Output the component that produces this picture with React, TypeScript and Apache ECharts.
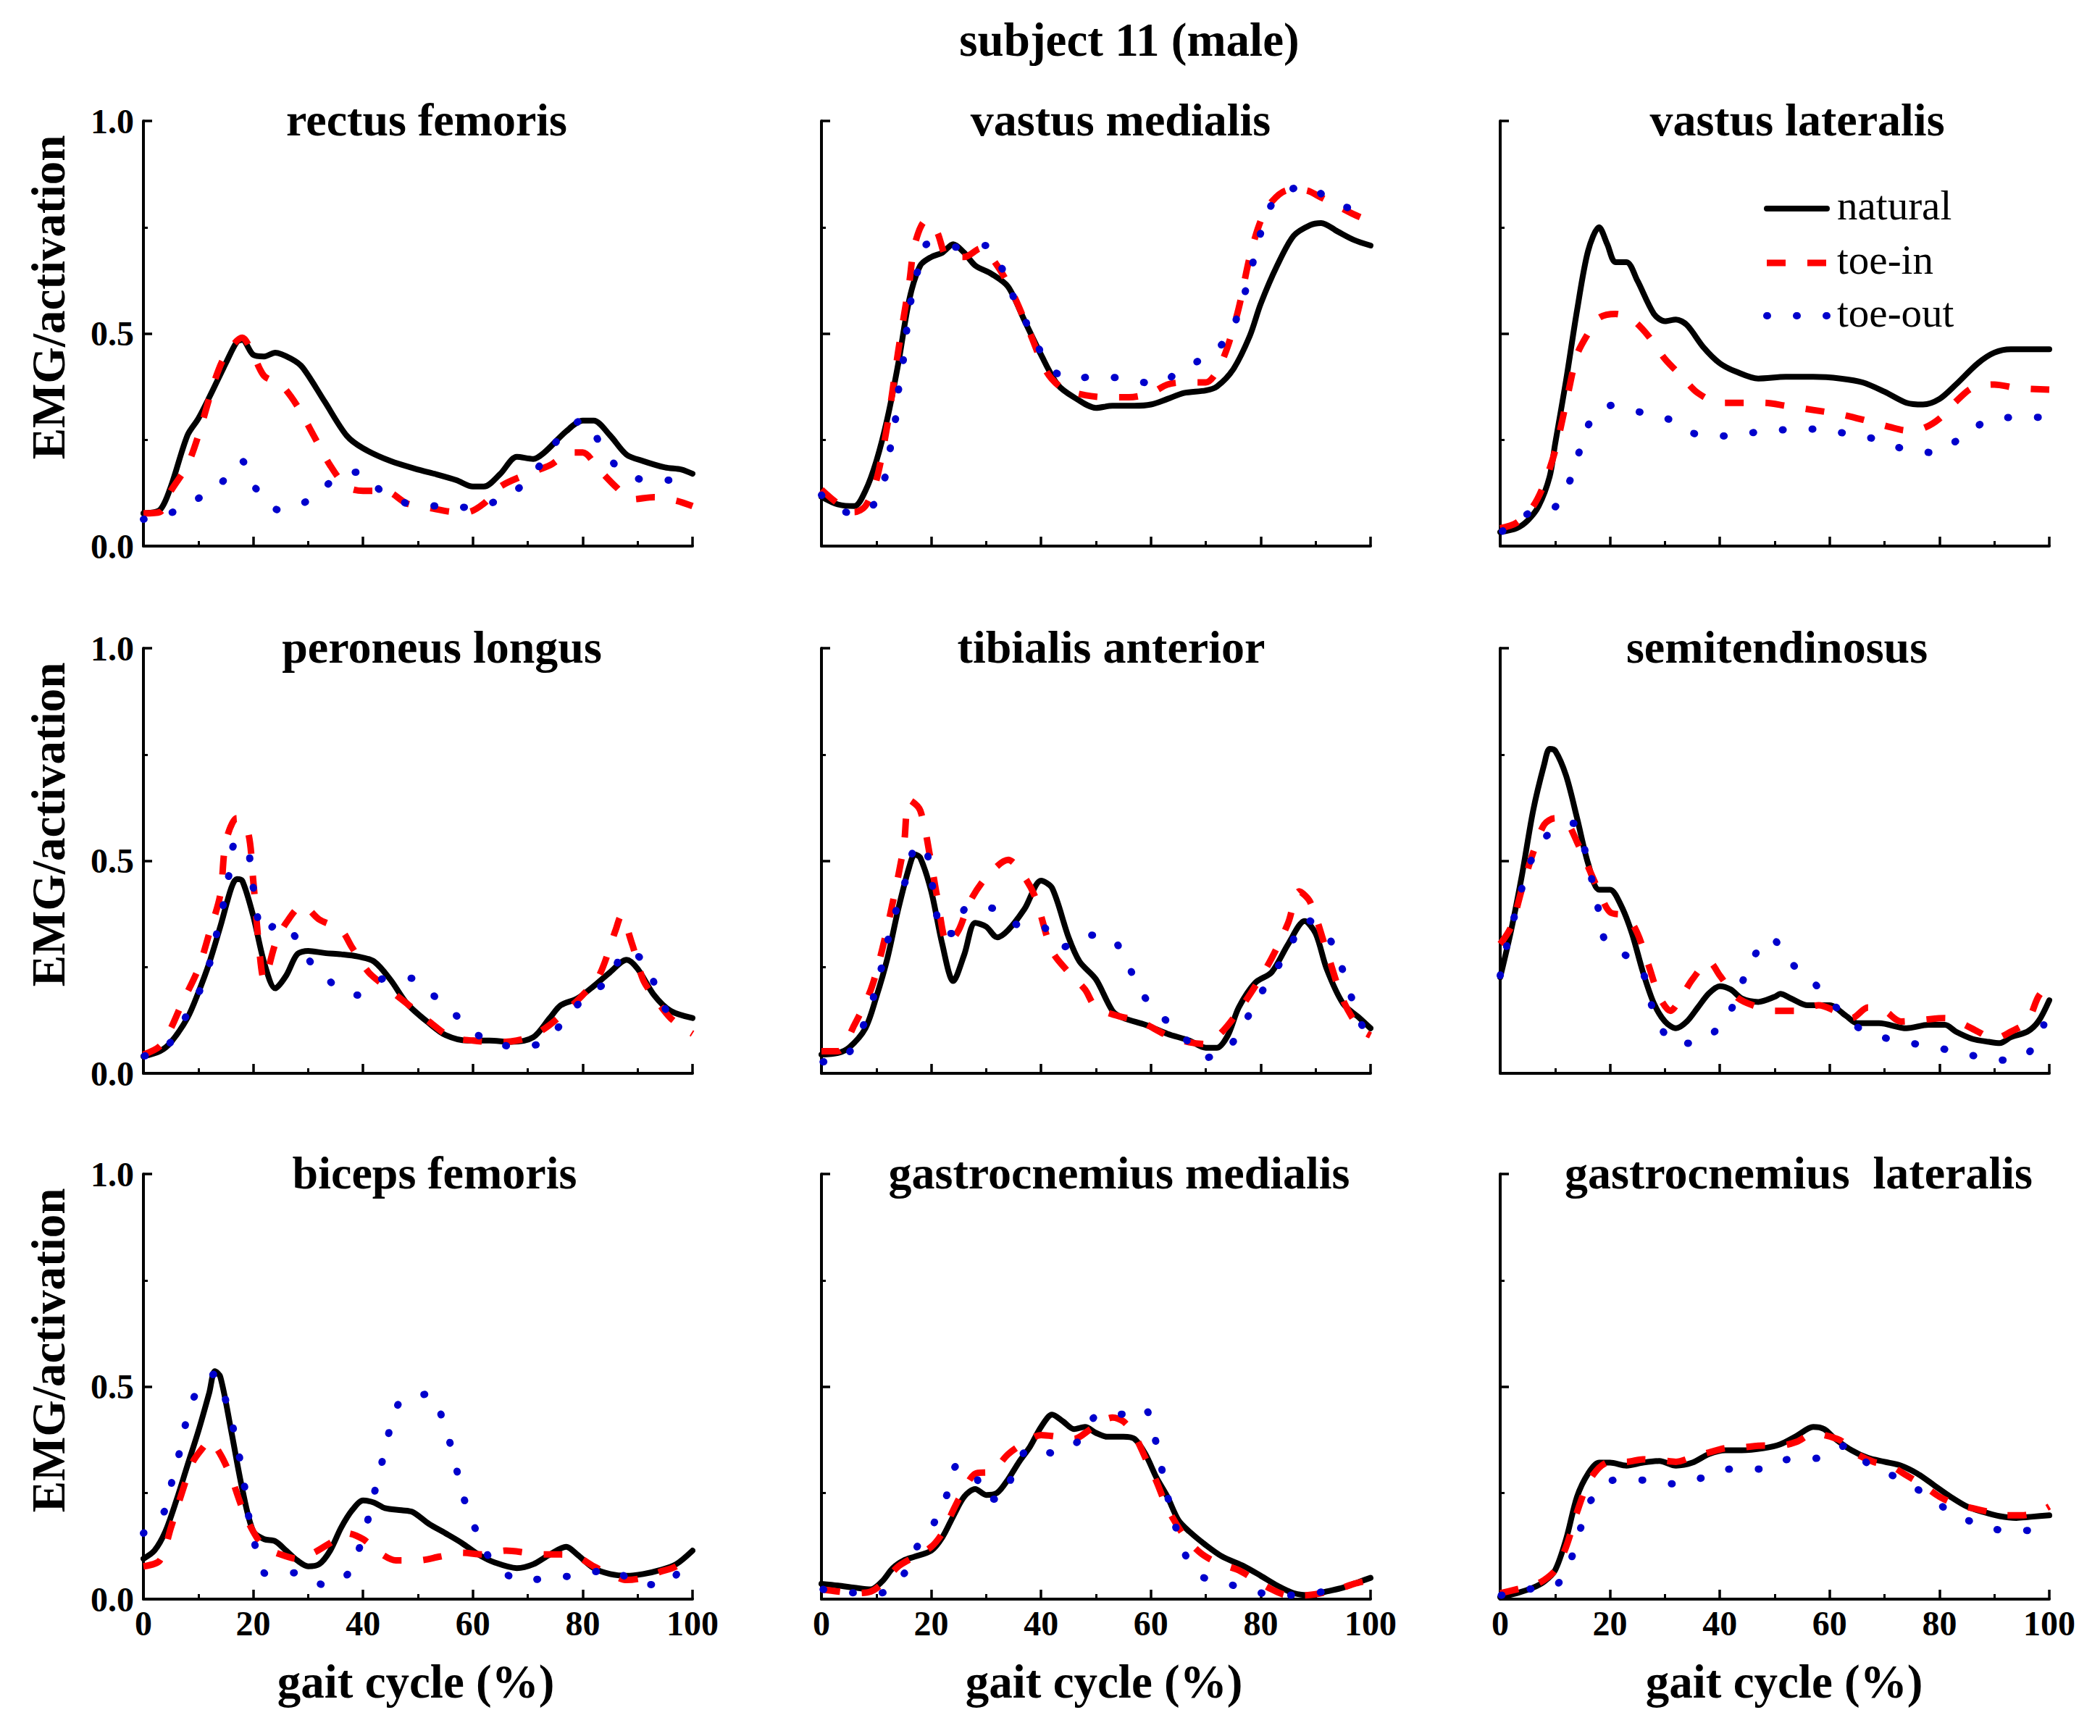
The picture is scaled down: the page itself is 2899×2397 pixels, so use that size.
import React, { useEffect, useRef } from "react";
import * as echarts from "echarts";

// ---------- DATA ----------
const figureTitle = "subject 11 (male)";
const muscles = [
  "rectus femoris", "vastus medialis", "vastus lateralis",
  "peroneus longus", "tibialis anterior", "semitendinosus",
  "biceps femoris", "gastrocnemius medialis", "gastrocnemius  lateralis",
];
const conditions = ["natural", "toe-in", "toe-out"];
const xAxisTitle = "gait cycle (%)";
const yAxisTitle = "EMG/activation";
const xTickStep = 20;
const yTickStep = 0.5;

// rectus femoris
const rfNatural = [[0,.077],[3,.085],[5,.14],[8,.26],[10,.30],[12,.35],[15,.43],[17,.48],[18,.485],[20,.45],[22,.446],[24,.455],[27,.44],[29,.42],[33,.34],[37,.26],[40,.23],[45,.20],[50,.18],[53,.17],[57,.155],[60,.14],[62,.14],[65,.17],[68,.21],[71,.205],[73,.22],[77,.27],[80,.295],[82,.295],[85,.26],[88,.215],[91,.20],[95,.185],[98,.18],[100,.17]];
const rfToeIn = [[0,.077],[3,.08],[5,.13],[8,.19],[10,.26],[13,.39],[15,.45],[18,.49],[20,.45],[22,.40],[25,.38],[28,.33],[31,.26],[34,.19],[37,.14],[40,.13],[44,.13],[48,.10],[52,.09],[57,.08],[59,.08],[62,.10],[65,.14],[70,.17],[74,.19],[78,.22],[80,.22],[83,.18],[86,.14],[89,.11],[93,.115],[97,.107],[100,.094]];
const rfToeOut = [[0,.063],[5,.078],[10.5,.116],[14.7,.155],[17.9,.20],[20.5,.135],[24.7,.085],[30,.107],[34,.149],[39,.174],[43.4,.129],[48.7,.098],[54.2,.094],[59.6,.091],[64.9,.109],[69,.143],[73,.203],[76.2,.262],[80,.296],[83.4,.237],[86.4,.185],[91.6,.155],[97.1,.155]];

// vastus medialis
const vmNatural = [[0,.116],[3,.098],[6,.094],[8,.13],[10,.20],[12,.30],[14,.43],[16,.58],[18,.66],[20,.68],[22,.69],[24,.71],[26,.69],[28,.66],[31,.64],[34,.61],[37,.53],[40,.45],[43,.38],[46,.35],[50,.325],[53,.33],[57,.33],[60,.333],[63,.346],[66,.36],[70,.366],[72,.375],[75,.416],[78,.494],[80,.57],[83,.66],[86,.73],[89,.755],[91,.76],[94,.74],[97,.72],[100,.707]];
const vmToeIn = [[0,.133],[3,.10],[6,.08],[8,.094],[10,.155],[12,.285],[14,.46],[16,.62],[17,.71],[19,.765],[21,.74],[23,.68],[26,.68],[29,.70],[32,.66],[35,.59],[38,.50],[41,.41],[44,.37],[48,.355],[52,.35],[56,.35],[60,.36],[63,.38],[66,.385],[70,.385],[72,.41],[74,.47],[76,.56],[78,.68],[80,.765],[82,.81],[85,.837],[88,.837],[91,.82],[94,.80],[97,.78],[100,.763]];
const vmToeOut = [[0,.12],[5.4,.077],[9.4,.096],[11.6,.163],[12.6,.235],[13.5,.30],[14.1,.374],[15,.446],[15.6,.516],[16.4,.585],[17.7,.655],[19.4,.711],[24.9,.703],[29.9,.707],[33.3,.642],[35.4,.572],[37.9,.511],[40.3,.45],[44.6,.394],[50.1,.398],[55.4,.394],[60.9,.381],[64.8,.407],[69.9,.446],[74.1,.49],[76.2,.56],[77.9,.63],[79.2,.70],[80.7,.763],[83.1,.824],[88.3,.846],[92.5,.816],[98.1,.783]];

// vastus lateralis
const vlNatural = [[0,.033],[3,.042],[5,.06],[7,.094],[9,.163],[10,.24],[12,.39],[14,.555],[16,.694],[18,.75],[19.5,.71],[21,.668],[23,.668],[25,.624],[28,.546],[30,.529],[32,.533],[34,.52],[37,.468],[40,.43],[43,.41],[47,.394],[52,.398],[57,.398],[62,.394],[66,.385],[70,.363],[74,.337],[77,.333],[80,.346],[83,.38],[87,.43],[90,.455],[93,.463],[100,.463]];
const vlToeIn = [[0,.042],[3,.055],[6,.094],[8,.146],[10,.224],[12,.337],[14,.45],[16,.50],[18,.537],[21,.546],[24,.533],[27,.494],[30,.44],[33,.40],[36,.36],[40,.337],[44,.337],[48,.337],[52,.33],[57,.32],[62,.31],[67,.294],[71,.28],[74,.272],[77,.277],[80,.30],[83,.34],[86,.372],[90,.38],[94,.372],[100,.368]];
const vlToeOut = [[0.4,.035],[5.2,.077],[10,.092],[12.9,.16],[14.5,.226],[16.4,.292],[20.4,.331],[25.8,.314],[31,.297],[35.8,.263],[41.3,.259],[46.7,.268],[52.1,.274],[57.7,.275],[62.9,.265],[68.2,.252],[73.4,.229],[78.9,.22],[83.4,.25],[88.3,.292],[93.9,.303],[99.2,.303]];

// peroneus longus
const plNatural = [[0,.04],[3,.052],[5,.073],[8,.13],[10,.19],[12,.26],[14,.345],[16,.436],[17,.457],[18,.453],[20,.37],[22,.26],[24,.20],[26,.23],[28,.28],[30,.288],[33,.283],[36,.28],[39,.275],[42,.263],[45,.22],[48,.164],[52,.118],[55,.09],[59,.077],[63,.077],[67,.074],[71,.085],[74,.13],[76,.16],[79,.176],[82,.205],[85,.238],[88,.267],[90,.246],[93,.184],[96,.147],[100,.13]];
const plToeIn = [[0,.044],[3,.064],[5,.106],[7,.164],[10,.246],[12,.33],[14,.42],[15,.544],[17,.60],[19,.57],[20,.453],[21,.304],[22,.22],[24,.304],[26,.354],[29,.395],[32,.362],[36,.337],[38,.296],[41,.238],[44,.205],[48,.164],[52,.122],[56,.085],[60,.077],[64,.073],[68,.077],[71,.089],[74,.114],[77,.147],[80,.184],[83,.23],[86,.337],[87,.37],[89,.304],[91,.22],[93,.18],[96,.13],[100,.093]];
const plToeOut = [[0.2,.041],[3.8,.056],[7.2,.122],[10.1,.19],[12,.256],[13.3,.326],[14.6,.40],[15.6,.469],[16.7,.54],[18.8,.538],[19.6,.469],[20.5,.40],[21.6,.329],[25,.355],[28.2,.311],[30.8,.255],[34.7,.209],[38.9,.184],[44.5,.226],[49.1,.223],[53.1,.18],[57.5,.13],[62.8,.074],[68.1,.064],[72.9,.073],[76.7,.126],[80.5,.18],[84.9,.221],[87.8,.288],[91.6,.259],[93.5,.193],[95.9,.13]];

// tibialis anterior
const taNatural = [[0,.044],[3,.048],[5,.06],[8,.106],[10,.18],[12,.27],[14,.387],[16,.486],[17,.515],[18,.507],[20,.428],[22,.304],[24,.217],[26,.279],[28,.354],[30,.345],[32,.32],[34,.337],[37,.387],[40,.453],[42,.436],[45,.32],[47,.263],[50,.221],[53,.147],[55,.13],[59,.114],[63,.093],[67,.077],[70,.06],[72,.06],[74,.089],[76,.155],[79,.213],[82,.238],[85,.304],[88,.358],[90,.329],[92,.246],[95,.164],[98,.13],[100,.106]];
const taToeIn = [[0,.052],[3,.052],[6,.114],[9,.197],[11,.288],[13,.403],[15,.535],[16,.643],[18,.618],[20,.494],[21,.42],[23,.304],[25,.337],[27,.403],[30,.461],[34,.502],[37,.461],[39,.412],[42,.288],[45,.238],[48,.197],[50,.155],[54,.135],[58,.122],[63,.089],[67,.073],[70,.069],[73,.098],[76,.147],[79,.205],[82,.271],[85,.354],[87,.428],[89,.403],[92,.288],[95,.172],[98,.106],[100,.089]];
const taToeOut = [[0.3,.027],[4.4,.04],[7.4,.106],[9.4,.176],[10.8,.242],[12,.308],[13.6,.383],[15.2,.449],[16.6,.519],[18.7,.54],[19.8,.469],[20.8,.40],[21.7,.329],[24.4,.329],[26.5,.391],[31.8,.387],[35.6,.35],[40.3,.345],[43.8,.296],[48.3,.325],[52.7,.319],[55.8,.256],[58.1,.193],[61.5,.14],[65.5,.093],[69.9,.037],[73.7,.054],[76.9,.116],[79.6,.179],[82.4,.236],[85.5,.302],[88,.362],[91.6,.335],[94.2,.269],[96,.199],[97.7,.136],[99.8,.073]];

// semitendinosus
const stNatural = [[0,.226],[2,.337],[4,.469],[6,.618],[8,.726],[9,.763],[10,.759],[12,.70],[14,.60],[16,.494],[18,.432],[20,.432],[22,.395],[24,.329],[26,.238],[28,.164],[30,.122],[32,.106],[34,.122],[36,.155],[38,.188],[40,.205],[42,.197],[44,.176],[47,.168],[50,.18],[51,.187],[53,.176],[56,.16],[60,.16],[63,.135],[65,.118],[69,.118],[74,.106],[78,.114],[81,.114],[83,.098],[86,.081],[89,.074],[91,.071],[93,.085],[96,.098],[98,.122],[100,.172]];
const stToeIn = [[0,.304],[2,.345],[4,.436],[6,.519],[8,.585],[10,.60],[12,.593],[14,.544],[16,.486],[18,.428],[20,.379],[23,.37],[25,.329],[27,.255],[29,.18],[31,.147],[33,.18],[35,.221],[38,.263],[40,.23],[43,.18],[46,.16],[50,.147],[54,.147],[58,.16],[61,.147],[64,.13],[67,.155],[70,.147],[73,.122],[77,.126],[81,.13],[84,.118],[87,.098],[90,.081],[93,.098],[96,.122],[98,.18],[100,.213]];
const stToeOut = [[0,.23],[1.2,.30],[2.6,.37],[4,.438],[5.6,.50],[8.5,.559],[13.3,.588],[15.6,.517],[16.8,.449],[18,.379],[19.2,.308],[21.8,.285],[25.4,.256],[27,.188],[28.6,.122],[32.2,.069],[37.3,.081],[41.3,.132],[43.7,.201],[45.7,.264],[49.3,.319],[52.7,.263],[57.1,.213],[60.7,.162],[64.9,.11],[70.2,.083],[75.7,.069],[81.2,.056],[86.4,.041],[91.8,.031],[96.2,.048],[99,.114]];

// biceps femoris
const bfNatural = [[0,.095],[2,.114],[4,.159],[6,.232],[8,.314],[10,.395],[12,.486],[13,.536],[14,.523],[16,.395],[18,.259],[20,.159],[22,.141],[24,.136],[26,.114],[28,.091],[30,.077],[32,.082],[34,.114],[36,.168],[38,.209],[40,.232],[42,.227],[44,.214],[47,.209],[49,.205],[52,.177],[55,.155],[58,.132],[61,.105],[64,.086],[68,.073],[71,.082],[74,.105],[77,.123],[79,.105],[82,.073],[85,.059],[88,.055],[91,.059],[94,.068],[97,.082],[100,.114]];
const bfToeIn = [[0,.077],[3,.091],[5,.168],[7,.25],[9,.323],[11,.359],[12,.373],[14,.341],[16,.286],[18,.214],[20,.159],[22,.123],[25,.105],[28,.095],[31,.109],[34,.132],[37,.155],[40,.141],[43,.109],[46,.091],[50,.091],[54,.10],[58,.109],[62,.105],[66,.114],[70,.109],[73,.105],[76,.105],[79,.10],[82,.077],[85,.059],[88,.045],[91,.05],[94,.064],[97,.077],[100,.109]];
const bfToeOut = [[0,.155],[3.8,.206],[5.2,.277],[6.6,.347],[7.8,.418],[9.5,.482],[12.9,.529],[15.2,.459],[16.6,.388],[17.7,.32],[18.6,.25],[19.4,.177],[20.7,.111],[22.4,.059],[27.8,.062],[33.3,.032],[37.6,.064],[39.5,.127],[41.1,.197],[42.4,.268],[43.7,.335],[45,.405],[47,.468],[52.2,.482],[54.7,.414],[56.3,.345],[57.6,.275],[59.1,.207],[61.2,.145],[63.7,.085],[68.9,.044],[74.3,.05],[79.6,.057],[85.1,.07],[90.3,.035],[95.2,.034],[98.7,.10]];

// gastrocnemius medialis
const gmNatural = [[0,.036],[3,.032],[6,.027],[9,.023],[11,.041],[13,.073],[15,.091],[17,.10],[20,.114],[22,.145],[24,.195],[26,.241],[28,.259],[30,.245],[32,.25],[34,.282],[36,.323],[38,.359],[40,.405],[42,.434],[44,.418],[46,.40],[48,.405],[50,.391],[52,.382],[55,.382],[57,.377],[59,.341],[61,.286],[63,.241],[65,.186],[67,.159],[70,.127],[73,.10],[77,.077],[80,.055],[83,.032],[86,.014],[89,.009],[92,.018],[95,.027],[98,.041],[100,.05]];
const gmToeIn = [[0,.023],[3,.018],[6,.014],[9,.018],[11,.036],[14,.077],[17,.10],[20,.123],[22,.155],[24,.209],[26,.259],[28,.295],[31,.30],[34,.341],[37,.368],[40,.386],[43,.382],[46,.377],[49,.40],[51,.418],[53,.427],[55,.418],[57,.386],[59,.332],[61,.277],[63,.214],[66,.15],[69,.109],[72,.086],[76,.068],[79,.045],[82,.023],[85,.009],[88,.009],[91,.014],[94,.023],[97,.036],[100,.045]];
const gmToeOut = [[0.3,.023],[5.7,.015],[11,.015],[15,.059],[17.5,.125],[20.5,.179],[22.9,.247],[24.7,.314],[27.8,.298],[29.9,.235],[33,.236],[35.1,.305],[38.2,.357],[42.3,.343],[47.3,.377],[50.5,.435],[55.2,.435],[58.7,.45],[60.7,.38],[61.9,.311],[63,.244],[64.4,.175],[66.1,.109],[68.8,.056],[74.1,.036],[79.4,.016],[84.7,.009],[90.1,.015],[95.9,.027]];

// gastrocnemius lateralis
const glNatural = [[0,.005],[3,.014],[6,.027],[8,.041],[10,.068],[12,.141],[14,.241],[16,.295],[18,.321],[20,.321],[23,.314],[26,.321],[29,.325],[32,.314],[35,.321],[38,.341],[41,.35],[44,.35],[48,.355],[51,.364],[54,.384],[57,.405],[59,.40],[61,.377],[64,.35],[67,.332],[70,.323],[73,.314],[76,.295],[79,.268],[82,.241],[85,.218],[88,.205],[91,.195],[94,.191],[97,.194],[100,.197]];
const glToeIn = [[0,.014],[3,.023],[6,.032],[8,.045],[10,.068],[12,.123],[14,.205],[16,.273],[18,.309],[20,.323],[23,.323],[26,.329],[29,.327],[32,.323],[35,.334],[38,.345],[41,.355],[44,.357],[48,.361],[51,.361],[54,.37],[57,.389],[59,.386],[62,.373],[65,.341],[68,.323],[71,.314],[74,.291],[77,.268],[80,.241],[83,.223],[86,.214],[89,.205],[92,.197],[95,.197],[98,.205],[100,.218]];
const glToeOut = [[0.2,.009],[5,.023],[10.1,.032],[13,.098],[14.6,.165],[16.4,.23],[20.8,.28],[26.3,.28],[31.8,.271],[36.7,.285],[42.1,.306],[47.3,.306],[52.5,.329],[58.1,.332],[63,.361],[67.4,.314],[72.4,.285],[77,.25],[81.6,.209],[86.8,.177],[92.3,.161],[97.8,.162]];

const panelData = [
  [rfNatural, rfToeIn, rfToeOut],
  [vmNatural, vmToeIn, vmToeOut],
  [vlNatural, vlToeIn, vlToeOut],
  [plNatural, plToeIn, plToeOut],
  [taNatural, taToeIn, taToeOut],
  [stNatural, stToeIn, stToeOut],
  [bfNatural, bfToeIn, bfToeOut],
  [gmNatural, gmToeIn, gmToeOut],
  [glNatural, glToeIn, glToeOut],
];

// ---------- LAYOUT / STYLE ----------
const W = 2899;
const H = 2397;
const gridLefts = [198, 1134, 2071];
const gridTops = [167, 895, 1621];
const gridW = 758;
const gridH = 587;
const titleOffsets = [12, 34, 31, 33, 21, 3, 23, 32, 33];
const xNameOffsets = [-3, 11, 13];
const FONT = '"Liberation Serif", "Times New Roman", serif';

const lineStyles = [
  { color: "#000000", width: 8, type: "solid", cap: "round", join: "round" },
  { color: "#ff0000", width: 9, type: [26, 30], cap: "butt", join: "round" },
  { color: "#0000cc", width: 10, type: [1, 40], cap: "round", join: "round" },
];

function buildOption() {
  const grid: any[] = [];
  const xAxis: any[] = [];
  const yAxis: any[] = [];
  const series: any[] = [];
  const graphic: any[] = [];

  for (let i = 0; i < 9; i++) {
    const row = Math.floor(i / 3);
    const col = i % 3;
    const left = gridLefts[col];
    const top = gridTops[row];
    grid.push({ left, top, width: gridW, height: gridH, containLabel: false });
    xAxis.push({
      type: "value",
      gridIndex: i,
      min: 0,
      max: 100,
      interval: xTickStep,
      axisLine: { show: true, onZero: false, lineStyle: { color: "#000", width: 4 } },
      axisTick: { show: true, inside: true, length: 13, lineStyle: { color: "#000", width: 3.5 } },
      minorTick: { show: true, splitNumber: 2, length: 7, lineStyle: { color: "#000", width: 3 } },
      splitLine: { show: false },
      minorSplitLine: { show: false },
      axisLabel: {
        show: row === 2,
        margin: 9,
        color: "#000",
        fontFamily: FONT,
        fontWeight: "bold",
        fontSize: 48,
        formatter: (v: number) => String(v),
      },
    });
    yAxis.push({
      type: "value",
      gridIndex: i,
      min: 0,
      max: 1,
      interval: yTickStep,
      axisLine: { show: true, onZero: false, lineStyle: { color: "#000", width: 4 } },
      axisTick: { show: true, inside: true, length: 12, lineStyle: { color: "#000", width: 3.5 } },
      minorTick: { show: true, splitNumber: 2, length: 6, lineStyle: { color: "#000", width: 3 } },
      splitLine: { show: false },
      minorSplitLine: { show: false },
      axisLabel: {
        show: col === 0,
        margin: 13,
        color: "#000",
        fontFamily: FONT,
        fontWeight: "bold",
        fontSize: 48,
        formatter: (v: number) => v.toFixed(1),
      },
    });
    panelData[i].forEach((d, k) => {
      series.push({
        type: "line",
        name: conditions[k],
        xAxisIndex: i,
        yAxisIndex: i,
        data: d,
        smooth: 0.3,
        symbol: "none",
        showSymbol: false,
        clip: false,
        lineStyle: lineStyles[k],
        z: 2 + k,
      });
    });
    // panel title
    graphic.push({
      type: "text",
      x: left + gridW / 2 + titleOffsets[i],
      y: top - 2,
      style: {
        text: muscles[i],
        fill: "#000",
        fontFamily: FONT,
        fontWeight: "bold",
        fontSize: 64,
        align: "center",
        verticalAlign: "middle",
      },
    });
    if (col === 0) {
      graphic.push({
        type: "text",
        x: 67,
        y: top + gridH / 2 - 50,
        rotation: Math.PI / 2,
        style: {
          text: yAxisTitle,
          fill: "#000",
          fontFamily: FONT,
          fontWeight: "bold",
          fontSize: 65,
          align: "center",
          verticalAlign: "middle",
        },
      });
    }
    if (row === 2) {
      graphic.push({
        type: "text",
        x: left + gridW / 2 + xNameOffsets[col],
        y: top + gridH + 114,
        style: {
          text: xAxisTitle,
          fill: "#000",
          fontFamily: FONT,
          fontWeight: "bold",
          fontSize: 65,
          align: "center",
          verticalAlign: "middle",
        },
      });
    }
  }

  // figure title
  graphic.push({
    type: "text",
    x: 1559,
    y: 55,
    style: {
      text: figureTitle,
      fill: "#000",
      fontFamily: FONT,
      fontWeight: "bold",
      fontSize: 65,
      align: "center",
      verticalAlign: "middle",
    },
  });

  // legend (inside vastus lateralis panel)
  const legendYs = [288, 363, 436];
  conditions.forEach((name, k) => {
    const ls = lineStyles[k];
    graphic.push({
      type: "line",
      shape: { x1: 2439, y1: legendYs[k], x2: 2522, y2: legendYs[k] },
      style: {
        stroke: ls.color,
        lineWidth: ls.width,
        lineDash: ls.type === "solid" ? null : ls.type,
        lineCap: ls.cap,
      },
    });
    graphic.push({
      type: "text",
      x: 2536,
      y: legendYs[k] - 5,
      style: {
        text: name,
        fill: "#000",
        fontFamily: FONT,
        fontSize: 57,
        align: "left",
        verticalAlign: "middle",
      },
    });
  });

  return {
    animation: false,
    backgroundColor: "#ffffff",
    grid,
    xAxis,
    yAxis,
    series,
    graphic,
  };
}

export default function App() {
  const ref = useRef<HTMLDivElement>(null);
  useEffect(() => {
    document.body.style.margin = "0";
    if (!ref.current) return;
    const chart = echarts.init(ref.current, undefined, { renderer: "svg" });
    chart.setOption(buildOption() as any);
    return () => {
      chart.dispose();
    };
  }, []);
  return <div ref={ref} style={{ width: W, height: H, background: "#fff" }} />;
}
